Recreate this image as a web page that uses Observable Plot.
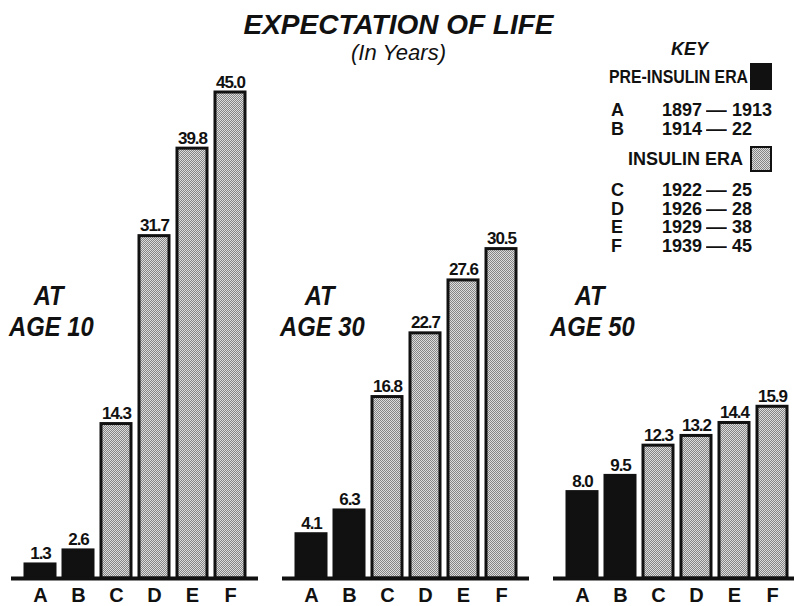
<!DOCTYPE html>
<html>
<head>
<meta charset="utf-8">
<script src="https://cdn.jsdelivr.net/npm/d3@7"></script>
<script src="https://cdn.jsdelivr.net/npm/@observablehq/plot@0.6"></script>
<style>
  html, body { margin: 0; padding: 0; background: #fff; }
  #wrap { position: relative; width: 794px; height: 606px; overflow: hidden; font-family: "Liberation Sans", Arial, sans-serif; color: #111; }
  #chart { position: absolute; left: 0; top: 0; }
  .abs { position: absolute; line-height: 1; white-space: nowrap; }
  .title { font-weight: bold; font-style: italic; font-size: 28px; left: 0; width: 797px; text-align: center; top: 11px; }
  .sub { font-style: italic; font-size: 22px; left: 0; width: 797px; text-align: center; top: 42px; }
  .panel { font-weight: bold; font-style: italic; font-size: 28px; line-height: 31px; transform: scaleX(0.85); transform-origin: 0 0; }
  .panel span { padding-left: 29px; }
  .key { font-weight: bold; font-size: 18px; transform-origin: 0 0; }
  .keyhead { font-weight: bold; font-style: italic; font-size: 18px; }
  .row { font-weight: bold; font-size: 18px; }
  .dash { transform: scaleX(1.15); transform-origin: 0 0; }
  .vals text { letter-spacing: -1px; }
</style>
</head>
<body>
<svg width="0" height="0" style="position:absolute">
  <defs>
    <pattern id="stipple" width="2" height="2" patternUnits="userSpaceOnUse">
      <rect width="2" height="2" fill="#dcdcdc"></rect>
      <rect width="1" height="1" fill="#858585"></rect>
      <rect x="1" y="1" width="1" height="1" fill="#858585"></rect>
    </pattern>
  </defs>
</svg>
<div id="wrap">
  <div id="chart"></div>
  <div class="abs title">EXPECTATION OF LIFE</div>
  <div class="abs sub">(In Years)</div>

  <div class="abs panel" style="left:9px;top:280px"><span>AT</span><br>AGE 10</div>
  <div class="abs panel" style="left:280px;top:280px"><span>AT</span><br>AGE 30</div>
  <div class="abs panel" style="left:550px;top:280px"><span>AT</span><br>AGE 50</div>

  <div class="abs keyhead" style="left:671px;top:40px">KEY</div>
  <div class="abs key" style="left:609px;top:68px;transform:scaleX(0.88)">PRE-INSULIN ERA</div>
  <svg class="abs" style="left:750px;top:63px" width="22" height="27"><rect x="0" y="0" width="22" height="27" fill="#111"></rect></svg>
  <div class="abs key" style="left:628px;top:150px">INSULIN ERA</div>
  <svg class="abs" style="left:750px;top:146px" width="22" height="26"><rect x="1" y="1" width="20" height="24" fill="url(#stipple)" stroke="#111" stroke-width="2"></rect></svg>
  <div id="rows"></div>
</div>
<script>
const ages = ["AT AGE 10", "AT AGE 30", "AT AGE 50"];
const periods = ["A", "B", "C", "D", "E", "F"];
const age10 = [1.3, 2.6, 14.3, 31.7, 39.8, 45.0];
const age30 = [4.1, 6.3, 16.8, 22.7, 27.6, 30.5];
const age50 = [8.0, 9.5, 12.3, 13.2, 14.4, 15.9];
const eras = ["pre", "pre", "insulin", "insulin", "insulin", "insulin"];
const keyFrom = ["1897", "1914", "1922", "1926", "1929", "1939"];
const keyTo = ["1913", "22", "25", "28", "38", "45"];

const series = [age10, age30, age50];
const data = [];
ages.forEach((age, i) => periods.forEach((p, j) => data.push({age, period: p, value: series[i][j], era: eras[j]})));

const chart = Plot.plot({
  width: 794,
  height: 606,
  marginLeft: 10,
  marginRight: -6,
  marginTop: 38,
  marginBottom: 28,
  style: {background: "transparent", color: "#111"},
  fx: {domain: ages, paddingInner: 0.09, paddingOuter: 0, axis: null, label: null},
  x: {domain: periods, paddingInner: 0.22, paddingOuter: 0.33, label: null, axis: null},
  y: {domain: [0, 50], axis: null},
  marks: [
    Plot.barY(data.filter(d => d.era === "pre"), {fx: "age", x: "period", y: "value", fill: "#111", stroke: "#111", strokeWidth: 3}),
    Plot.barY(data.filter(d => d.era === "insulin"), {fx: "age", x: "period", y: "value", fill: "url(#stipple)", stroke: "#111", strokeWidth: 3}),
    Plot.ruleY([0], {stroke: "#111", strokeWidth: 4}),
    Plot.text(data, {fx: "age", x: "period", y: "value", text: d => d.value.toFixed(1), dy: -5, lineAnchor: "bottom", fontSize: 17, fontWeight: "bold", fontFamily: "'Liberation Sans', Arial, sans-serif", fill: "#111", className: "vals"}),
    Plot.axisX({tickSize: 0, tickPadding: 9, fontSize: 20, fontWeight: "bold", fontFamily: "'Liberation Sans', Arial, sans-serif", label: null})
  ]
});
document.getElementById("chart").appendChild(chart);

// key rows
const rows = document.getElementById("rows");
const rowTops = [101, 120, 181, 199.5, 218, 236.5];
periods.forEach((p, i) => {
  const mk = (txt, left, cls) => {
    const el = document.createElement("div");
    el.className = "abs row" + (cls ? " " + cls : "");
    el.style.top = rowTops[i] + "px";
    el.style.left = left + "px";
    el.textContent = txt;
    rows.appendChild(el);
  };
  mk(p, 611);
  mk(keyFrom[i], 662);
  mk("—", 706, "dash");
  mk(keyTo[i], 732);
});
</script>
</body>
</html>
